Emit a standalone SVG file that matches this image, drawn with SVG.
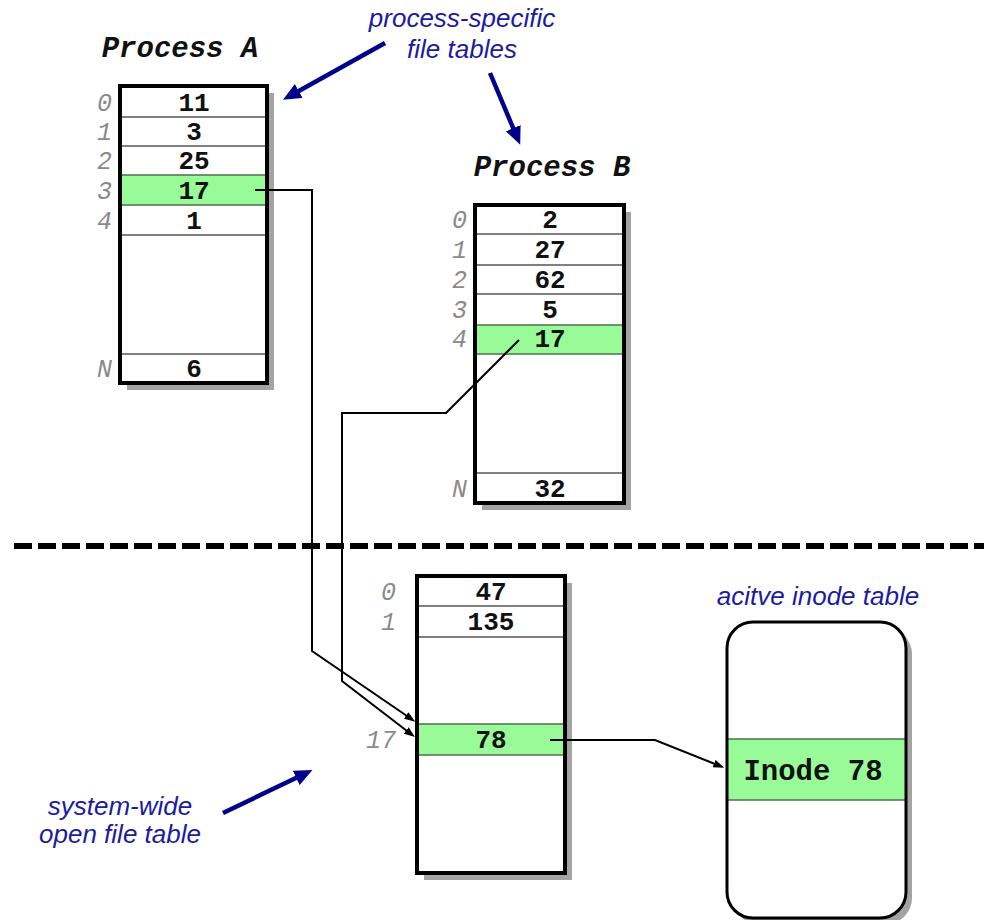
<svg xmlns="http://www.w3.org/2000/svg" width="984" height="920" viewBox="0 0 984 920">
<style>
.shadow{fill:#a3a3a3}
.tbl{fill:#ffffff}
.border{fill:none;stroke:#000;stroke-width:4}
.div{stroke:#555;stroke-width:1.5}
.green{fill:#98fb98;stroke:#4f6f4f;stroke-width:1.5}
.val{font-family:"Liberation Mono","DejaVu Sans Mono",monospace;font-weight:bold;font-size:26px;fill:#111;text-anchor:middle}
.idx{font-family:"Liberation Mono","DejaVu Sans Mono",monospace;font-style:italic;font-size:25px;fill:#8a8a8a;text-anchor:end}
.title{font-family:"Liberation Mono","DejaVu Sans Mono",monospace;font-weight:bold;font-style:italic;font-size:29px;fill:#111;text-anchor:middle}
.note{font-family:"Liberation Sans",Arial,sans-serif;font-style:italic;font-size:26px;fill:#1c1ca0;text-anchor:middle}
.conn{fill:none;stroke:#000;stroke-width:2}
.blue{fill:none;stroke:#00008b;stroke-width:4.5}
</style>
<defs>
<marker id="blk" markerWidth="11" markerHeight="8" refX="1" refY="4" orient="auto" markerUnits="userSpaceOnUse"><path d="M0,0 L11,4 L0,8 z" fill="#000"/></marker>
<marker id="blu" markerWidth="18" markerHeight="16" refX="2" refY="8" orient="auto" markerUnits="userSpaceOnUse"><path d="M0,0 L18,8 L0,16 z" fill="#00008b"/></marker>
</defs>

<line x1="14" y1="546" x2="984" y2="546" stroke="#000" stroke-width="6" stroke-dasharray="18 6"/>

<g id="processA">
<text class="title" x="180" y="57">Process A</text>
<rect class="shadow" x="127" y="93" width="147" height="297"/>
<rect class="tbl" x="120" y="86" width="147" height="297"/>
<rect class="green" x="120" y="175" width="147" height="30"/>
<line class="div" x1="120" y1="117" x2="267" y2="117"/>
<line class="div" x1="120" y1="146" x2="267" y2="146"/>
<line class="div" x1="120" y1="235" x2="267" y2="235"/>
<line class="div" x1="120" y1="354" x2="267" y2="354"/>
<rect class="border" x="120" y="86" width="147" height="297"/>
<text class="val" x="194" y="111">11</text>
<text class="val" x="194" y="140">3</text>
<text class="val" x="194" y="169">25</text>
<text class="val" x="194" y="199">17</text>
<text class="val" x="194" y="229">1</text>
<text class="val" x="194" y="377">6</text>
<text class="idx" x="112" y="111">0</text>
<text class="idx" x="112" y="140">1</text>
<text class="idx" x="112" y="169">2</text>
<text class="idx" x="112" y="199">3</text>
<text class="idx" x="112" y="229">4</text>
<text class="idx" x="112" y="377">N</text>
</g>

<g id="processB">
<text class="title" x="552" y="176">Process B</text>
<rect class="shadow" x="482" y="212" width="149" height="298"/>
<rect class="tbl" x="475" y="205" width="149" height="298"/>
<rect class="green" x="475" y="325" width="149" height="29"/>
<line class="div" x1="475" y1="234" x2="624" y2="234"/>
<line class="div" x1="475" y1="265" x2="624" y2="265"/>
<line class="div" x1="475" y1="294" x2="624" y2="294"/>
<line class="div" x1="475" y1="473" x2="624" y2="473"/>
<rect class="border" x="475" y="205" width="149" height="298"/>
<text class="val" x="550" y="228">2</text>
<text class="val" x="550" y="258">27</text>
<text class="val" x="550" y="288">62</text>
<text class="val" x="550" y="318">5</text>
<text class="val" x="550" y="347">17</text>
<text class="val" x="550" y="497">32</text>
<text class="idx" x="467" y="228">0</text>
<text class="idx" x="467" y="258">1</text>
<text class="idx" x="467" y="288">2</text>
<text class="idx" x="467" y="318">3</text>
<text class="idx" x="467" y="347">4</text>
<text class="idx" x="467" y="497">N</text>
</g>

<g id="openFileTable">
<rect class="shadow" x="424" y="583" width="148" height="297"/>
<rect class="tbl" x="417" y="576" width="148" height="297"/>
<rect class="green" x="417" y="724" width="148" height="31"/>
<line class="div" x1="417" y1="606" x2="565" y2="606"/>
<line class="div" x1="417" y1="637" x2="565" y2="637"/>
<rect class="border" x="417" y="576" width="148" height="297"/>
<text class="val" x="491" y="600">47</text>
<text class="val" x="491" y="630">135</text>
<text class="val" x="491" y="748">78</text>
<text class="idx" x="396" y="600">0</text>
<text class="idx" x="396" y="630">1</text>
<text class="idx" x="396" y="748">17</text>
</g>

<g id="inodeTable">
<text class="note" x="818" y="605">acitve inode table</text>
<rect class="shadow" x="733" y="628" width="179" height="296" rx="26"/>
<rect class="tbl" x="727" y="622" width="179" height="296" rx="26"/>
<rect class="green" x="727" y="739" width="179" height="61"/>
<rect x="727" y="622" width="179" height="296" rx="26" fill="none" stroke="#000" stroke-width="3"/>
<text class="val" x="813" y="780" style="font-size:29px">Inode 78</text>
</g>

<g id="annotations">
<text class="note" x="462" y="27">process-specific</text>
<text class="note" x="462" y="58">file tables</text>
<text class="note" x="120" y="815">system-wide</text>
<text class="note" x="120" y="843">open file table</text>
<line class="blue" x1="385" y1="43" x2="297" y2="92" marker-end="url(#blu)"/>
<line class="blue" x1="490" y1="73" x2="514" y2="130" marker-end="url(#blu)"/>
<line class="blue" x1="223" y1="813" x2="298" y2="777" marker-end="url(#blu)"/>
</g>

<g id="connectors">
<path class="conn" d="M255,190 H312 V651 L407,716" marker-end="url(#blk)"/>
<path class="conn" d="M519,340 L446,413 H342 V681 L407,731" marker-end="url(#blk)"/>
<path class="conn" d="M550,740 H655 L715,764" marker-end="url(#blk)"/>
</g>
</svg>
